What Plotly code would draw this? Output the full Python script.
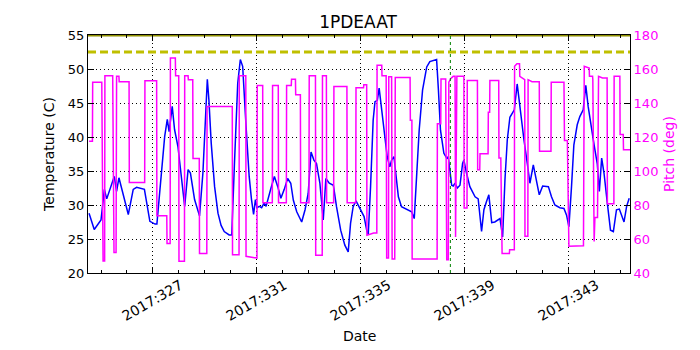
import plotly.graph_objects as go

# temperature trace (left axis), day-of-year 2017
temp_days = [324.54, 324.74, 325.0, 325.13, 325.22, 325.51, 325.6, 325.69, 326.05, 326.24,
             326.37, 326.67, 326.88, 327.08, 327.15, 327.32, 327.45, 327.55, 327.62, 327.74,
             327.83, 327.96, 328.09, 328.22, 328.35, 328.44, 328.6, 328.79, 328.92, 329.03,
             329.09, 329.15, 329.24, 329.37, 329.5, 329.62, 329.74, 329.93, 330.03, 330.13,
             330.26, 330.36, 330.45, 330.58, 330.7, 330.79, 330.87, 330.94, 331.0, 331.09,
             331.18, 331.28, 331.35, 331.54, 331.67, 331.8, 331.92, 332.05, 332.18, 332.3,
             332.4, 332.53, 332.72, 332.85, 332.97, 333.08, 333.19, 333.29, 333.42, 333.55,
             333.65, 333.78, 333.94, 334.06, 334.22, 334.38, 334.51, 334.6, 334.7, 334.81,
             334.96, 335.12, 335.22, 335.28, 335.37, 335.47, 335.54, 335.63, 335.7, 335.79,
             335.9, 336.01, 336.11, 336.18, 336.27, 336.35, 336.44, 336.56, 336.76, 336.95,
             337.05, 337.14, 337.24, 337.37, 337.53, 337.65, 337.91, 337.98, 338.06, 338.19,
             338.3, 338.36, 338.42, 338.49, 338.55, 338.62, 338.71, 338.81, 338.91, 338.96,
             339.06, 339.19, 339.39, 339.51, 339.64, 339.73, 339.83, 339.92, 340.03, 340.15,
             340.35, 340.45, 340.54, 340.63, 340.73, 340.9, 341.01, 341.12, 341.27, 341.4,
             341.5, 341.63, 341.73, 341.86, 341.99, 342.21, 342.33, 342.46, 342.65, 342.81,
             342.91, 343.0, 343.1, 343.19, 343.32, 343.42, 343.55, 343.65, 343.74, 343.87,
             343.97, 344.09, 344.17, 344.26, 344.35, 344.48, 344.6, 344.71, 344.83, 344.94,
             345.03, 345.12, 345.22, 345.32]
temp_c = [28.8, 26.4, 27.8, 32.3, 30.9, 34.2, 32.0, 34.0, 28.6, 32.3,
          32.6, 32.3, 27.6, 27.2, 27.2, 34.7, 40.1, 42.6, 40.8, 44.5,
          41.1, 38.6, 34.2, 29.8, 35.2, 34.7, 30.8, 28.4, 34.7, 44.5,
          48.5, 45.5, 39.1, 32.7, 28.8, 27.0, 26.1, 25.6, 25.6, 35.7,
          47.9, 51.4, 50.4, 41.6, 34.2, 30.8, 28.6, 30.8, 29.6, 29.8,
          29.6, 30.3, 29.8, 32.5, 34.2, 32.7, 31.0, 32.3, 33.9, 33.2,
          30.7, 29.0, 27.5, 29.3, 31.7, 37.8, 36.6, 36.1, 33.2, 27.8,
          33.9, 33.2, 32.9, 29.75, 26.3, 24.1, 23.1, 27.3, 29.75, 30.6,
          29.5, 28.3, 26.3, 25.6, 32.7, 42.5, 45.2, 45.4, 47.2, 44.0,
          40.0, 37.1, 35.6, 36.6, 37.1, 34.7, 31.2, 29.75, 29.3, 29.0,
          28.0, 33.7, 41.0, 46.9, 50.3, 51.1, 51.4, 46.9, 41.0, 37.6,
          36.9, 37.1, 34.7, 32.9, 32.8, 33.2, 32.5, 32.9, 36.1, 36.6,
          34.7, 32.7, 31.2, 30.9, 26.1, 29.3, 30.5, 31.5, 27.4, 27.5,
          28.0, 25.3, 33.7, 39.6, 42.9, 44.0, 47.8, 44.0, 39.6, 36.1,
          33.2, 35.9, 34.2, 31.5, 32.8, 32.7, 31.2, 30.0, 29.6, 29.5,
          28.5, 26.8, 32.7, 38.8, 41.8, 43.0, 44.0, 47.6, 44.5, 41.0,
          38.8, 36.1, 32.0, 36.9, 34.7, 30.2, 26.3, 26.1, 29.3, 29.4,
          28.5, 27.5, 29.8, 31.0]

# pitch trace (right axis)
pitch_days = [324.54, 324.67, 324.68, 325.03, 325.08, 325.14, 325.15, 325.45, 325.5, 325.58,
              325.6, 325.69, 325.7, 326.08, 326.09, 326.68, 326.69, 327.14, 327.15, 327.53,
              327.54, 327.66, 327.67, 327.86, 327.87, 327.99, 328.0, 328.21, 328.22, 328.35,
              328.36, 328.53, 328.54, 328.78, 328.79, 329.07, 329.08, 330.05, 330.06, 330.31,
              330.32, 330.57, 330.58, 330.96, 331.0, 331.01, 331.22, 331.23, 331.59, 331.6,
              331.82, 331.83, 332.13, 332.14, 332.32, 332.33, 332.48, 332.49, 332.67, 332.68,
              333.0, 333.01, 333.25, 333.26, 333.51, 333.52, 333.67, 333.68, 333.95, 333.96,
              334.46, 334.47, 334.8, 334.81, 335.1, 335.11, 335.22, 335.23, 335.49, 335.61,
              335.62, 335.8, 335.81, 335.97, 335.99, 336.06, 336.07, 336.18, 336.2, 336.3,
              336.32, 336.89, 336.9, 336.96, 336.97, 337.93, 337.94, 338.07, 338.08, 338.26,
              338.3, 338.36, 338.38, 338.46, 338.55, 338.62, 338.64, 338.69, 338.96, 338.97,
              339.08, 339.09, 339.48, 339.49, 339.57, 339.58, 339.89, 339.9, 339.95, 339.96,
              340.3, 340.31, 340.38, 340.43, 340.71, 340.72, 340.9, 340.91, 341.0, 341.1,
              341.11, 341.3, 341.31, 341.42, 341.43, 341.58, 341.86, 341.87, 342.31, 342.32,
              342.81, 342.83, 342.94, 343.0, 343.56, 343.59, 343.78, 343.79, 343.91, 343.92,
              343.97, 344.0, 344.1, 344.14, 344.29, 344.47, 344.48, 344.73, 344.74, 344.96,
              344.97, 345.09, 345.1, 345.36]
pitch_deg = [117.5, 117.5, 152.2, 152.2, 47.0, 47.0, 156.0, 156.0, 52.0, 52.0,
             155.7, 155.7, 152.5, 152.5, 93.3, 93.3, 153.1, 153.1, 73.7, 73.7,
             57.3, 57.3, 166.5, 166.5, 156.0, 156.0, 46.9, 46.9, 156.0, 156.0,
             153.7, 153.7, 107.3, 107.3, 51.5, 51.5, 138.0, 138.0, 50.8, 50.8,
             156.0, 156.0, 49.8, 48.8, 48.8, 150.3, 150.3, 81.3, 81.3, 150.3,
             150.3, 81.3, 81.3, 150.3, 150.3, 154.0, 154.0, 144.8, 144.8, 81.3,
             81.3, 156.0, 156.0, 50.5, 50.5, 156.0, 156.0, 81.3, 81.3, 149.7,
             149.7, 81.3, 81.3, 149.0, 149.0, 150.8, 150.8, 62.2, 63.5, 63.5,
             162.2, 162.2, 156.0, 156.0, 48.8, 48.8, 155.5, 155.5, 48.2, 48.2,
             155.0, 155.0, 129.8, 129.8, 48.2, 48.2, 127.8, 127.8, 154.1, 154.1,
             47.8, 47.8, 152.2, 154.5, 155.7, 155.7, 61.2, 155.7, 155.7, 78.2,
             78.2, 153.3, 153.3, 100.8, 100.8, 110.2, 110.2, 134.5, 134.5, 153.3,
             153.3, 107.6, 107.6, 51.4, 51.4, 53.7, 53.7, 161.6, 163.1, 163.1,
             155.7, 153.7, 61.6, 61.6, 153.7, 152.5, 152.5, 111.6, 111.6, 152.2,
             152.2, 118.0, 118.0, 55.7, 56.0, 161.6, 160.6, 155.7, 155.7, 153.7,
             58.6, 72.7, 72.7, 155.7, 154.7, 154.7, 80.8, 80.8, 155.7, 155.7,
             121.4, 121.4, 112.5, 112.5]

tick_days = [327, 331, 335, 339, 343]
tick_labels = ["2017:327", "2017:331", "2017:335", "2017:339", "2017:343"]
temp_limit = 52.5
temp_top = 55
event_day = 338.44

font = "DejaVu Sans, Arial, sans-serif"
grid_dash = "1px,3px"

fig = go.Figure()
fig.add_trace(go.Scatter(x=temp_days, y=temp_c, mode="lines",
                         line=dict(color="#0000ff", width=1.5), yaxis="y"))
fig.add_trace(go.Scatter(x=pitch_days, y=pitch_deg, mode="lines",
                         line=dict(color="#ff00ff", width=1.5), yaxis="y2"))

fig.add_shape(type="line", xref="paper", x0=0, x1=1, yref="y", y0=temp_limit, y1=temp_limit,
              line=dict(color="#bfbf00", width=3, dash="8px,4px"))
fig.add_shape(type="line", xref="paper", x0=0, x1=1, yref="y", y0=temp_top, y1=temp_top,
              line=dict(color="#8f8f00", width=3), layer="below")
fig.add_shape(type="line", xref="x", x0=event_day, x1=event_day, yref="paper", y0=0, y1=1,
              line=dict(color="#008000", width=1, dash="dot"))

# rotated date labels, centred on their ticks like matplotlib's rotation=30
for d, lab in zip(tick_days, tick_labels):
    fig.add_annotation(x=d, xref="x", y=-0.115, yref="paper", text=lab, showarrow=False,
                       textangle=-30, xanchor="center", yanchor="middle",
                       font=dict(size=14, color="black"))
fig.add_annotation(x=0.5, xref="paper", y=-0.265, yref="paper", text="Date", showarrow=False,
                   xanchor="center", yanchor="middle", font=dict(size=14, color="black"))

# the page body has an 8px margin, so margins are trimmed to keep the plot box in place
fig.update_layout(
    width=700, height=350,
    margin=dict(l=80, r=78, t=27, b=85, autoexpand=False),
    plot_bgcolor="white", paper_bgcolor="white",
    showlegend=False,
    font=dict(family=font, size=13, color="black"),
    title=dict(text="1PDEAAT", x=0.5, xanchor="center", y=1 - 14 / 350, yref="container",
               yanchor="middle", font=dict(size=17)),
    xaxis=dict(range=[324.5, 345.35], tickmode="array", tickvals=tick_days,
               showticklabels=False, automargin=False,
               ticks="inside", ticklen=6, tickcolor="black",
               showline=True, linecolor="black", linewidth=1, mirror="ticks",
               showgrid=True, gridcolor="black", griddash=grid_dash, gridwidth=1,
               minor=dict(tickmode="linear", tick0=0, dtick=1, ticks="inside", ticklen=3,
                          tickcolor="black", showgrid=False),
               zeroline=False),
    yaxis=dict(range=[20, 55], dtick=5, ticks="inside", ticklen=6, tickcolor="black",
               showline=True, linecolor="black", linewidth=1, mirror=True, automargin=False,
               showgrid=True, gridcolor="black", griddash=grid_dash, gridwidth=1,
               zeroline=False, tickfont=dict(size=13),
               title=dict(text="Temperature (C)", standoff=9, font=dict(size=14))),
    yaxis2=dict(range=[40, 180], dtick=20, overlaying="y", side="right", automargin=False,
                ticks="inside", ticklen=6, tickcolor="black",
                showline=True, linecolor="black", linewidth=1,
                showgrid=False, zeroline=False,
                tickfont=dict(color="#ff00ff", size=13),
                title=dict(text="Pitch (deg)", font=dict(color="#ff00ff", size=14), standoff=6)),
)

fig.write_html("out.html")
